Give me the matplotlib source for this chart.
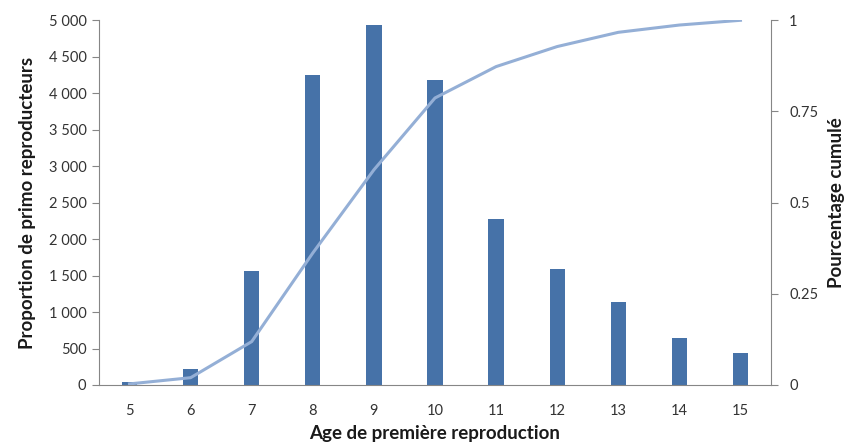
import matplotlib
matplotlib.use("Agg")
import matplotlib.pyplot as plt
from matplotlib.ticker import FuncFormatter

# values
ages = [5, 6, 7, 8, 9, 10, 11, 12, 13, 14, 15]
counts = [45, 219, 1563, 4250, 4940, 4182, 2276, 1595, 1138, 644, 439]
cumul = [0.003, 0.02, 0.119, 0.362, 0.59, 0.787, 0.873, 0.928, 0.967, 0.987, 1.0]
right_ticks = [0, 0.25, 0.5, 0.75, 1]
right_labels = ["0", "0.25", "0.5", "0.75", "1"]

plt.rcParams['font.family'] = ['Lato', 'DejaVu Sans']

bar_col = '#4672A8'
line_col = '#94AFD6'
grey = '#868686'
txt = '#333333'

fig = plt.figure(figsize=(8.51, 4.44), dpi=100)
ax = fig.add_axes([0.1163, 0.1329, 0.7897, 0.8214])
x = list(range(len(ages)))

ax.bar(x, counts, width=0.25, color=bar_col, zorder=2)
ax.set_xlim(-0.5, len(ages) - 0.5)
ax.set_ylim(0, 5000)
ax.set_yticks(range(0, 5001, 500))
ax.yaxis.set_major_formatter(FuncFormatter(lambda v, p: f"{int(v):,}".replace(",", " ")))
ax.set_xticks(x)
ax.set_xticklabels([str(a) for a in ages])
ax.tick_params(axis='x', length=0, pad=14, labelsize=10.5, colors=txt)
ax.tick_params(axis='y', length=5, width=0.8, color=grey, labelsize=10.5, colors=txt, pad=4)
ax.set_xlabel("Age de première reproduction", fontsize=13.5, fontweight='bold', labelpad=5, color='#1a1a1a')
ax.set_ylabel("Proportion de primo reproducteurs", fontsize=13.5, fontweight='bold', labelpad=9, color='#1a1a1a')
for s in ['top', 'right']:
    ax.spines[s].set_visible(False)
for s in ['left', 'bottom']:
    ax.spines[s].set_color(grey)
    ax.spines[s].set_linewidth(0.8)

ax2 = ax.twinx()
ax2.plot(x, cumul, color=line_col, lw=2.2, zorder=3)
ax2.set_ylim(0, 1)
ax2.set_yticks(right_ticks)
ax2.set_yticklabels(right_labels)
ax2.tick_params(axis='y', length=5, width=0.8, color=grey, labelsize=10.5, colors=txt, pad=8)
ax2.set_ylabel("Pourcentage cumulé", fontsize=13.5, fontweight='bold', labelpad=7, color='#1a1a1a')
for s in ['top', 'left', 'bottom']:
    ax2.spines[s].set_visible(False)
ax2.spines['right'].set_color(grey)
ax2.spines['right'].set_linewidth(0.8)

fig.savefig("out.png", dpi=100)
